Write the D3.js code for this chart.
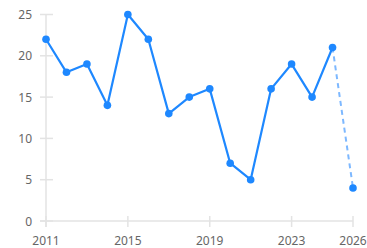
<!DOCTYPE html>
<html>
<head>
<meta charset="utf-8">
<script src="https://cdn.jsdelivr.net/npm/d3@7"></script>
<style>
  body { margin: 0; background: #fff; }
  text { font-family: "Noto Sans", sans-serif; }
</style>
</head>
<body>
<svg id="chart" width="367" height="248"></svg>
<script>
var years = [2011, 2012, 2013, 2014, 2015, 2016, 2017, 2018, 2019, 2020, 2021, 2022, 2023, 2024, 2025, 2026];
var values = [22, 18, 19, 14, 25, 22, 13, 15, 16, 7, 5, 16, 19, 15, 21, 4];
var xTicks = [2011, 2015, 2019, 2023, 2026];
var yTicks = [0, 5, 10, 15, 20, 25];

function main() {
  var svg = d3.select("#chart");
  var left = 46, right = 353, top = 14.5, bottom = 221;

  var x = d3.scaleLinear().domain([2011, 2026]).range([left, right]);
  var y = d3.scaleLinear().domain([0, 25]).range([bottom, top]);

  var axisColor = "#e3e3e3", labelColor = "#666";

  // y axis line + ticks
  svg.append("line").attr("x1", left).attr("x2", left)
    .attr("y1", top).attr("y2", bottom + 6)
    .attr("stroke", axisColor).attr("stroke-width", 1.5);
  svg.selectAll(".ytick").data(yTicks).enter().append("line")
    .attr("x1", left - 6).attr("x2", left + 7)
    .attr("y1", function(d) { return y(d); }).attr("y2", function(d) { return y(d); })
    .attr("stroke", axisColor).attr("stroke-width", 1.5);
  svg.selectAll(".ylab").data(yTicks).enter().append("text")
    .attr("x", 32).attr("y", function(d) { return y(d) + 4.5; })
    .attr("text-anchor", "end").attr("font-size", 12).attr("fill", labelColor)
    .text(function(d) { return d; });

  // x axis line + ticks
  svg.append("line").attr("x1", left - 6).attr("x2", right)
    .attr("y1", bottom).attr("y2", bottom)
    .attr("stroke", axisColor).attr("stroke-width", 1.5);
  svg.selectAll(".xtick").data(xTicks).enter().append("line")
    .attr("x1", function(d) { return x(d); }).attr("x2", function(d) { return x(d); })
    .attr("y1", bottom - 5).attr("y2", bottom + 6)
    .attr("stroke", axisColor).attr("stroke-width", 1.5);
  svg.selectAll(".xlab").data(xTicks).enter().append("text")
    .attr("x", function(d) { return x(d); }).attr("y", 245)
    .attr("text-anchor", "middle").attr("font-size", 12).attr("fill", labelColor)
    .text(function(d) { return d; });

  var data = years.map(function(yr, i) { return { year: yr, value: values[i] }; });
  var line = d3.line()
    .x(function(d) { return x(d.year); })
    .y(function(d) { return y(d.value); });

  // solid part up to second last point, dashed last segment
  svg.append("path").datum(data.slice(0, data.length - 1))
    .attr("d", line).attr("fill", "none")
    .attr("stroke", "#1e88ff").attr("stroke-width", 2.2)
    .attr("stroke-linejoin", "round");
  svg.append("path").datum(data.slice(data.length - 2))
    .attr("d", line).attr("fill", "none")
    .attr("stroke", "#7db8ff").attr("stroke-width", 2)
    .attr("stroke-dasharray", "5,4");

  svg.selectAll(".dot").data(data).enter().append("circle")
    .attr("cx", function(d) { return x(d.year); })
    .attr("cy", function(d) { return y(d.value); })
    .attr("r", 3.8)
    .attr("fill", "#1e88ff");
}
main();
</script>
</body>
</html>
